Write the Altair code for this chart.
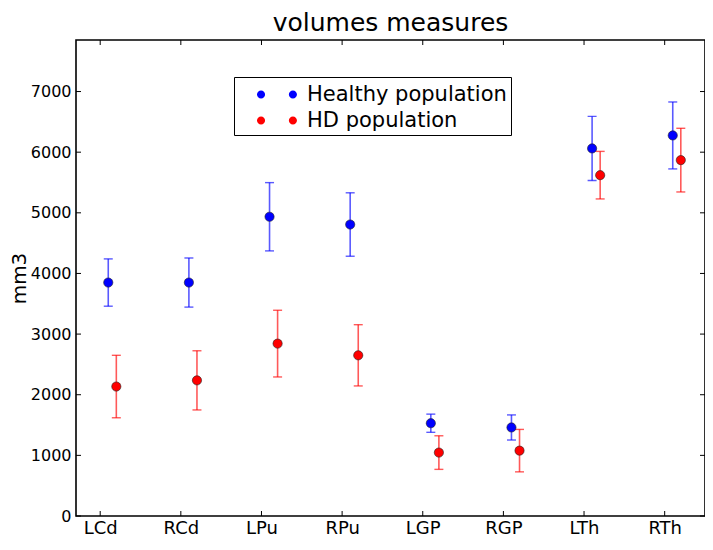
import json
import altair as alt
import pandas as pd

# ---- data ----
regions = ["LCd", "RCd", "LPu", "RPu", "LGP", "RGP", "LTh", "RTh"]
healthy_mean = [3850, 3850, 4935, 4807, 1530, 1460, 6062, 6276]
healthy_err = [390, 405, 563, 523, 150, 207, 528, 552]
hd_mean = [2135, 2237, 2843, 2650, 1046, 1078, 5621, 5869]
hd_err = [515, 488, 550, 505, 277, 350, 392, 525]
group_names = ["Healthy population", "HD population"]
group_offsets = [0.1, 0.2]
group_colors = ["#0000ff", "#ff0000"]
y_ticks = [0, 1000, 2000, 3000, 4000, 5000, 6000, 7000]
x_ticks = list(range(len(regions)))

rows = []
for gname, off, means, errs in zip(group_names, group_offsets,
                                   [healthy_mean, hd_mean], [healthy_err, hd_err]):
    for i, (m, e) in enumerate(zip(means, errs)):
        rows.append({"group": gname, "region": regions[i], "x": i + off,
                     "mean": m, "lo": m - e, "hi": m + e})
df = pd.DataFrame(rows)

W, H = 629, 476
FONT = "DejaVu Sans"

xscale = alt.Scale(domain=[-0.3, 7.5], nice=False, zero=False)
yscale = alt.Scale(domain=[0, 7850], nice=False, zero=False)
cscale = alt.Scale(domain=group_names, range=group_colors)

label_expr = json.dumps(regions) + "[datum.value]"

xax = alt.Axis(values=x_ticks, labelExpr=label_expr, ticks=False, domain=False,
               grid=False, title=None, labelFontSize=18, labelFont=FONT,
               labelColor="black", labelPadding=3)
yax = alt.Axis(values=y_ticks, format="d", ticks=False, domain=False, grid=False,
               title="mm3", titleFontSize=20, titleFont=FONT, titleFontWeight="normal",
               titleColor="black", titleX=-47, titleY=H / 2,
               labelFontSize=16, labelFont=FONT, labelColor="black", labelPadding=5)

base = alt.Chart(df)

two_dots = ("M 0.407,0 A 0.3,0.3 0 1,0 1.007,0 A 0.3,0.3 0 1,0 0.407,0 Z "
            "M 2.767,0 A 0.3,0.3 0 1,0 3.367,0 A 0.3,0.3 0 1,0 2.767,0 Z")

err_rule = base.mark_rule(strokeWidth=1.6, opacity=0.65).encode(
    x=alt.X("x:Q", scale=xscale, axis=xax),
    y=alt.Y("lo:Q", scale=yscale, axis=yax),
    y2="hi:Q",
    color=alt.Color("group:N", scale=cscale, legend=None),
)
cap_lo = base.mark_tick(orient="horizontal", size=9, thickness=1.4, opacity=0.65).encode(
    x="x:Q", y="lo:Q", color=alt.Color("group:N", scale=cscale, legend=None))
cap_hi = base.mark_tick(orient="horizontal", size=9, thickness=1.4, opacity=0.65).encode(
    x="x:Q", y="hi:Q", color=alt.Color("group:N", scale=cscale, legend=None))

points = base.mark_point(filled=True, shape="circle", size=85, opacity=1,
                         stroke="#222222", strokeWidth=0.6).encode(
    x="x:Q", y="mean:Q",
    color=alt.Color("group:N", scale=cscale, legend=alt.Legend(
        title=None, orient="none", legendX=158, legendY=37,
        direction="vertical", symbolType=two_dots, symbolSize=729,
        symbolStrokeWidth=0, symbolOpacity=1,
        labelFontSize=21, labelFont=FONT, labelColor="black", labelOffset=42,
        rowPadding=2, padding=4, strokeColor="black", fillColor="white",
        labelLimit=400)),
)

# inward tick marks on all four sides (matplotlib classic style)
xt = pd.DataFrame({"v": x_ticks})
yt = pd.DataFrame({"v": y_ticks})
tick_style = dict(color="black", strokeWidth=1)
xb = alt.Chart(xt).mark_rule(**tick_style).encode(
    x=alt.X("v:Q", scale=xscale), y=alt.value(H - 5), y2=alt.value(H))
xtp = alt.Chart(xt).mark_rule(**tick_style).encode(
    x=alt.X("v:Q", scale=xscale), y=alt.value(0), y2=alt.value(5))
yl = alt.Chart(yt).mark_rule(**tick_style).encode(
    y=alt.Y("v:Q", scale=yscale), x=alt.value(0), x2=alt.value(5))
yr = alt.Chart(yt).mark_rule(**tick_style).encode(
    y=alt.Y("v:Q", scale=yscale), x=alt.value(W - 5), x2=alt.value(W))

chart = alt.layer(err_rule, cap_lo, cap_hi, points, xb, xtp, yl, yr).resolve_legend(
    color="independent"
).properties(
    width=W, height=H,
    background="white",
    title=alt.TitleParams("volumes measures", fontSize=25, font=FONT,
                          fontWeight="normal", color="black", anchor="middle", offset=4),
    autosize=alt.AutoSizeParams(type="none"),
    padding={"left": 68, "top": 32, "right": 0, "bottom": 26},
).configure_view(stroke="black", strokeWidth=1.6)

chart.save("out.html", embed_options={"renderer": "svg", "actions": False})
